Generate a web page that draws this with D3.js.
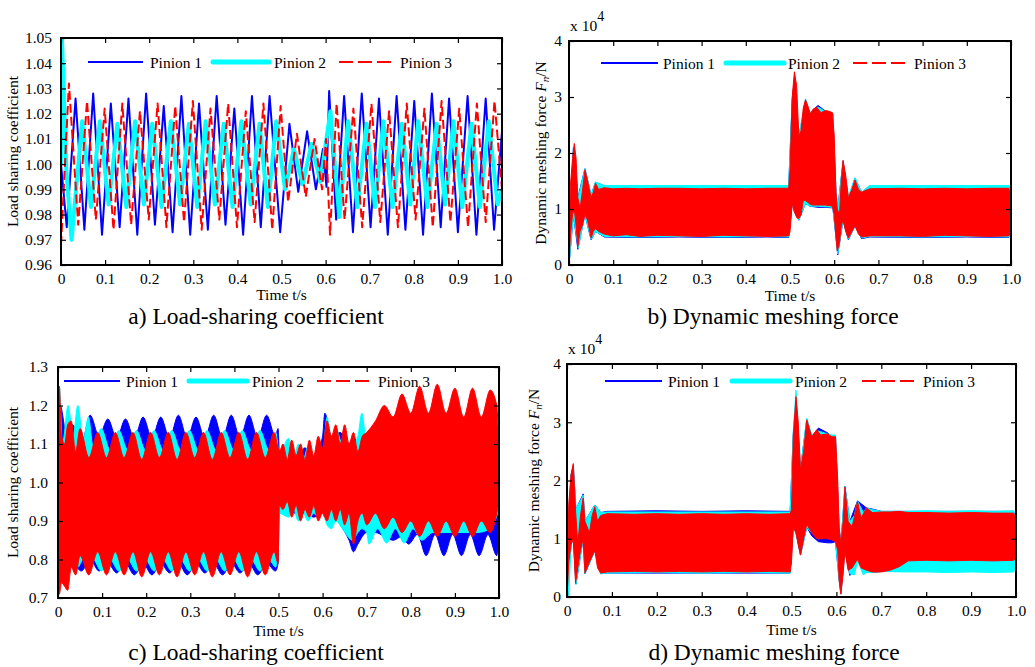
<!DOCTYPE html>
<html><head><meta charset="utf-8">
<script src="https://cdn.jsdelivr.net/npm/d3@7/dist/d3.min.js"></script>
<style>html,body{margin:0;padding:0;background:#fff}svg{display:block}</style>
</head><body><svg id="c" width="1035" height="667"></svg>
<script>
// ---------------- DATA ----------------
const seriesNames = ["Pinion 1", "Pinion 2", "Pinion 3"];
const timeTicks = [0, 0.1, 0.2, 0.3, 0.4, 0.5, 0.6, 0.7, 0.8, 0.9, 1.0];
const timeTickLabels = ["0", "0.1", "0.2", "0.3", "0.4", "0.5", "0.6", "0.7", "0.8", "0.9", "1.0"];
const lscTicksA = [0.96, 0.97, 0.98, 0.99, 1.00, 1.01, 1.02, 1.03, 1.04, 1.05];
const lscLabelsA = ["0.96", "0.97", "0.98", "0.99", "1.00", "1.01", "1.02", "1.03", "1.04", "1.05"];
const lscTicksC = [0.7, 0.8, 0.9, 1.0, 1.1, 1.2, 1.3];
const lscLabelsC = ["0.7", "0.8", "0.9", "1.0", "1.1", "1.2", "1.3"];
const forceTicks = [0, 1, 2, 3, 4];           // x 10^4 N
const forceLabels = ["0", "1", "2", "3", "4"];

// a) load-sharing coefficient, [t, value] at turning points
const aP1 = [[0,1.000],[0.013,0.975],[0.033,1.026],[0.053,0.974],[0.073,1.028],[0.093,0.972],[0.113,1.024],[0.133,0.975],[0.153,1.026],[0.173,0.972],[0.193,1.028],[0.213,0.976],[0.233,1.023],[0.253,0.973],[0.273,1.027],[0.293,0.972],[0.313,1.024],[0.333,0.974],[0.353,1.027],[0.373,0.976],[0.393,1.022],[0.413,0.972],[0.433,1.027],[0.453,0.975],[0.473,1.027],[0.497,0.973],[0.518,1.016],[0.538,0.989],[0.558,1.013],[0.578,0.990],[0.594,1.006],[0.602,0.991],[0.608,1.029],[0.624,0.978],[0.642,1.027],[0.662,0.973],[0.682,1.028],[0.702,0.975],[0.721,1.026],[0.741,0.972],[0.761,1.027],[0.781,0.974],[0.801,1.025],[0.821,0.972],[0.841,1.028],[0.861,0.975],[0.880,1.026],[0.900,0.973],[0.922,1.027],[0.942,0.972],[0.963,1.026],[0.982,0.974],[1.000,1.013]];
const aP2 = [[0,1.000],[0.002,1.050],[0.006,1.030],[0.012,0.998],[0.024,0.970],[0.048,1.017],[0.068,0.983],[0.088,1.017],[0.108,0.984],[0.128,1.016],[0.148,0.983],[0.168,1.017],[0.188,0.984],[0.207,1.016],[0.228,0.983],[0.249,1.017],[0.270,0.984],[0.290,1.016],[0.309,0.983],[0.328,1.017],[0.349,0.984],[0.369,1.016],[0.389,0.983],[0.409,1.017],[0.430,0.984],[0.450,1.016],[0.469,0.983],[0.488,1.017],[0.508,0.990],[0.528,1.006],[0.548,0.992],[0.568,1.008],[0.588,0.993],[0.611,1.021],[0.631,0.979],[0.651,1.017],[0.672,0.983],[0.693,1.016],[0.712,0.983],[0.731,1.017],[0.752,0.983],[0.773,1.016],[0.792,0.984],[0.810,1.017],[0.831,0.983],[0.852,1.016],[0.871,0.984],[0.890,1.017],[0.910,0.983],[0.931,1.016],[0.950,0.983],[0.970,1.017],[0.990,0.984],[1.000,0.990]];
const aP3 = [[0,0.968],[0.018,1.032],[0.039,0.976],[0.059,1.025],[0.079,0.978],[0.099,1.022],[0.119,0.974],[0.139,1.024],[0.159,0.976],[0.179,1.021],[0.199,0.978],[0.219,1.024],[0.239,0.975],[0.259,1.023],[0.279,0.977],[0.299,1.025],[0.319,0.974],[0.339,1.022],[0.359,0.978],[0.379,1.024],[0.399,0.975],[0.419,1.021],[0.439,0.977],[0.459,1.024],[0.479,0.974],[0.498,1.023],[0.515,0.985],[0.535,1.012],[0.555,0.987],[0.575,1.010],[0.592,0.990],[0.601,1.010],[0.610,0.972],[0.625,1.024],[0.643,0.978],[0.663,1.022],[0.683,0.975],[0.704,1.024],[0.724,0.977],[0.744,1.021],[0.764,0.975],[0.784,1.024],[0.804,0.978],[0.824,1.022],[0.843,0.975],[0.863,1.025],[0.883,0.977],[0.903,1.022],[0.923,0.975],[0.943,1.024],[0.963,0.977],[0.983,1.025],[1.000,0.990]];

// b) dynamic meshing force (x10^4 N), envelope [t, low, high]
const bP1 = [[0.000,0.00,0.30],[0.010,0.90,2.10],[0.020,0.28,1.20],[0.036,0.90,1.72],[0.050,0.45,1.25],[0.060,0.60,1.48],[0.080,0.50,1.41],[0.150,0.49,1.41],[0.250,0.50,1.41],[0.350,0.49,1.41],[0.450,0.50,1.41],[0.497,0.49,1.41],[0.505,1.10,2.95],[0.510,0.95,3.30],[0.520,0.80,2.30],[0.535,1.10,2.90],[0.545,1.05,2.70],[0.563,1.03,2.85],[0.580,1.03,2.75],[0.597,1.02,2.70],[0.604,0.50,1.30],[0.608,0.18,1.00],[0.620,0.80,1.85],[0.632,0.45,1.20],[0.647,0.70,1.55],[0.662,0.47,1.30],[0.680,0.50,1.41],[0.800,0.49,1.41],[0.900,0.50,1.41],[0.995,0.49,1.41],[1.000,0.55,1.20]];
const bP2 = [[0.000,0.00,0.30],[0.010,0.90,2.10],[0.021,0.30,1.20],[0.036,0.90,1.72],[0.050,0.46,1.25],[0.060,0.60,1.48],[0.080,0.51,1.42],[0.150,0.50,1.42],[0.250,0.51,1.42],[0.350,0.50,1.42],[0.450,0.51,1.42],[0.497,0.50,1.42],[0.505,1.10,2.95],[0.510,0.95,3.35],[0.520,0.80,2.30],[0.535,1.10,2.97],[0.545,1.05,2.72],[0.563,1.05,2.82],[0.580,1.04,2.74],[0.597,1.03,2.70],[0.604,0.50,1.30],[0.608,0.20,1.00],[0.620,0.80,1.85],[0.632,0.46,1.22],[0.647,0.70,1.56],[0.662,0.48,1.30],[0.680,0.51,1.42],[0.800,0.50,1.42],[0.900,0.51,1.42],[0.995,0.50,1.42],[1.000,0.55,1.20]];
const bP3 = [[0.000,0.00,0.20],[0.003,0.50,1.40],[0.008,0.90,1.90],[0.012,1.00,2.17],[0.016,0.70,1.90],[0.020,0.33,1.20],[0.025,0.60,1.00],[0.030,0.70,1.30],[0.036,0.90,1.70],[0.042,0.80,1.50],[0.050,0.48,1.20],[0.055,0.60,1.30],[0.060,0.65,1.46],[0.067,0.60,1.35],[0.080,0.55,1.38],[0.100,0.52,1.36],[0.130,0.54,1.37],[0.160,0.51,1.36],[0.200,0.53,1.37],[0.250,0.52,1.37],[0.300,0.51,1.36],[0.350,0.53,1.37],[0.400,0.52,1.36],[0.450,0.51,1.37],[0.497,0.52,1.37],[0.500,0.60,1.70],[0.505,1.10,3.00],[0.510,0.95,3.45],[0.515,0.85,3.20],[0.520,0.83,2.30],[0.525,0.90,2.40],[0.530,1.15,2.80],[0.535,1.15,2.95],[0.540,1.12,2.85],[0.546,1.08,2.70],[0.552,1.07,2.78],[0.560,1.07,2.82],[0.570,1.07,2.72],[0.580,1.07,2.76],[0.590,1.06,2.74],[0.596,1.05,2.72],[0.600,0.90,2.30],[0.604,0.50,1.30],[0.607,0.25,1.00],[0.612,0.40,0.90],[0.616,0.70,1.50],[0.620,0.80,1.87],[0.626,0.60,1.60],[0.632,0.48,1.20],[0.640,0.60,1.35],[0.647,0.70,1.52],[0.655,0.55,1.35],[0.662,0.50,1.30],[0.680,0.52,1.36],[0.750,0.52,1.37],[0.800,0.51,1.36],[0.850,0.53,1.37],[0.900,0.52,1.36],[0.950,0.51,1.37],[0.995,0.52,1.37],[1.000,0.60,1.20]];

// c) load-sharing coefficient, envelope [t, low, high]
const cP1 = [[0.000,0.90,1.10],[0.005,0.75,1.20],[0.020,0.76,1.12],[0.033,0.79,1.15],[0.053,0.77,1.10],[0.073,0.80,1.175],[0.093,0.77,1.12],[0.113,0.79,1.165],[0.133,0.765,1.115],[0.153,0.79,1.165],[0.173,0.76,1.115],[0.193,0.79,1.17],[0.213,0.76,1.115],[0.233,0.79,1.17],[0.253,0.765,1.115],[0.273,0.79,1.175],[0.293,0.76,1.115],[0.313,0.79,1.17],[0.333,0.765,1.115],[0.353,0.79,1.175],[0.373,0.76,1.115],[0.393,0.79,1.175],[0.413,0.765,1.115],[0.433,0.79,1.175],[0.453,0.76,1.115],[0.473,0.79,1.175],[0.493,0.77,1.12],[0.499,0.79,1.14],[0.502,0.94,1.08],[0.520,0.93,1.10],[0.540,0.92,1.06],[0.560,0.92,1.09],[0.580,0.91,1.06],[0.600,0.92,1.12],[0.605,0.91,1.18],[0.620,0.92,1.12],[0.640,0.89,1.13],[0.660,0.85,1.10],[0.670,0.82,1.12],[0.680,0.84,1.10],[0.700,0.87,1.12],[0.720,0.87,1.15],[0.740,0.86,1.15],[0.760,0.85,1.15],[0.780,0.86,1.16],[0.795,0.84,1.16],[0.815,0.865,1.16],[0.835,0.81,1.16],[0.855,0.865,1.16],[0.875,0.81,1.16],[0.895,0.865,1.16],[0.915,0.81,1.16],[0.935,0.865,1.16],[0.955,0.81,1.16],[0.975,0.865,1.16],[0.995,0.81,1.15],[1.000,0.88,1.05]];
const cP2 = [[0.000,0.90,1.10],[0.003,0.85,1.25],[0.010,0.80,1.10],[0.023,0.79,1.20],[0.034,0.81,1.12],[0.045,0.78,1.20],[0.057,0.80,1.11],[0.069,0.77,1.17],[0.080,0.80,1.09],[0.098,0.77,1.14],[0.118,0.80,1.085],[0.138,0.77,1.135],[0.158,0.80,1.085],[0.178,0.77,1.135],[0.198,0.80,1.085],[0.218,0.77,1.135],[0.238,0.80,1.085],[0.258,0.77,1.135],[0.278,0.80,1.085],[0.298,0.77,1.135],[0.318,0.80,1.085],[0.338,0.77,1.135],[0.358,0.80,1.085],[0.378,0.77,1.135],[0.398,0.80,1.085],[0.418,0.77,1.135],[0.438,0.80,1.085],[0.458,0.77,1.135],[0.478,0.80,1.085],[0.494,0.78,1.13],[0.502,0.92,1.07],[0.523,0.91,1.115],[0.534,0.93,1.06],[0.545,0.90,1.10],[0.556,0.92,1.06],[0.567,0.90,1.093],[0.580,0.92,1.06],[0.590,0.91,1.08],[0.600,0.92,1.07],[0.610,0.89,1.17],[0.620,0.88,1.11],[0.630,0.90,1.14],[0.645,0.88,1.10],[0.668,0.85,1.10],[0.680,0.87,1.12],[0.689,0.88,1.18],[0.700,0.87,1.10],[0.705,0.84,1.10],[0.725,0.88,1.13],[0.745,0.843,1.12],[0.765,0.88,1.14],[0.785,0.843,1.14],[0.805,0.88,1.15],[0.825,0.85,1.15],[0.850,0.87,1.15],[0.900,0.87,1.15],[0.950,0.87,1.15],[0.980,0.88,1.15],[1.000,0.93,1.05]];
const cP3 = [[0.000,0.85,1.05],[0.003,0.71,1.25],[0.008,0.74,1.12],[0.015,0.73,1.10],[0.022,0.72,1.15],[0.030,0.78,1.16],[0.040,0.76,1.08],[0.050,0.81,1.14],[0.070,0.76,1.065],[0.090,0.82,1.13],[0.110,0.76,1.065],[0.130,0.82,1.13],[0.150,0.76,1.065],[0.170,0.82,1.13],[0.190,0.755,1.06],[0.210,0.82,1.13],[0.230,0.76,1.065],[0.250,0.82,1.13],[0.270,0.755,1.06],[0.290,0.82,1.13],[0.310,0.76,1.065],[0.330,0.82,1.13],[0.350,0.755,1.06],[0.370,0.82,1.13],[0.390,0.76,1.065],[0.410,0.82,1.13],[0.430,0.755,1.06],[0.450,0.82,1.13],[0.470,0.76,1.065],[0.490,0.82,1.13],[0.499,0.79,1.09],[0.502,0.94,1.08],[0.510,0.93,1.10],[0.520,0.95,1.06],[0.530,0.91,1.11],[0.540,0.94,1.07],[0.550,0.90,1.10],[0.560,0.93,1.06],[0.570,0.91,1.11],[0.580,0.94,1.07],[0.590,0.90,1.12],[0.600,0.92,1.09],[0.610,0.90,1.16],[0.620,0.93,1.12],[0.630,0.90,1.15],[0.640,0.93,1.10],[0.650,0.89,1.15],[0.660,0.92,1.10],[0.670,0.84,1.13],[0.680,0.90,1.08],[0.690,0.92,1.12],[0.700,0.89,1.13],[0.720,0.92,1.16],[0.740,0.88,1.20],[0.760,0.91,1.17],[0.780,0.87,1.23],[0.800,0.90,1.18],[0.820,0.86,1.25],[0.840,0.90,1.18],[0.860,0.86,1.255],[0.880,0.90,1.18],[0.900,0.86,1.245],[0.920,0.90,1.17],[0.940,0.86,1.245],[0.960,0.90,1.17],[0.980,0.87,1.24],[0.995,0.92,1.20],[1.000,0.95,1.05]];

// d) dynamic meshing force (x10^4 N), envelope [t, low, high]
const dP1 = [[0.000,0.00,0.30],[0.009,0.90,2.10],[0.014,1.00,2.25],[0.020,0.22,1.50],[0.036,1.00,1.77],[0.040,0.40,1.30],[0.062,0.80,1.58],[0.075,0.40,1.45],[0.090,0.41,1.47],[0.200,0.41,1.48],[0.300,0.41,1.47],[0.400,0.41,1.48],[0.497,0.41,1.47],[0.504,1.20,2.80],[0.510,1.10,3.40],[0.520,0.72,2.20],[0.534,1.20,3.05],[0.545,1.05,2.75],[0.560,0.95,2.90],[0.580,0.93,2.82],[0.590,0.93,2.75],[0.598,0.95,2.75],[0.606,0.30,1.20],[0.610,0.05,0.90],[0.619,0.80,1.90],[0.630,0.37,1.30],[0.647,0.62,1.65],[0.667,0.42,1.53],[0.680,0.42,1.51],[0.700,0.44,1.47],[0.800,0.45,1.47],[0.900,0.45,1.47],[0.995,0.45,1.47],[1.000,0.55,1.30]];
const dP2 = [[0.000,0.00,0.30],[0.004,0.00,1.50],[0.009,0.90,2.10],[0.014,1.00,2.25],[0.020,0.22,1.50],[0.036,1.00,1.75],[0.040,0.40,1.30],[0.062,0.80,1.58],[0.075,0.40,1.45],[0.090,0.41,1.46],[0.200,0.42,1.46],[0.300,0.41,1.46],[0.400,0.42,1.46],[0.497,0.41,1.46],[0.504,1.20,2.85],[0.510,1.10,3.55],[0.520,0.72,2.20],[0.534,1.20,3.07],[0.545,1.10,2.78],[0.560,1.00,2.85],[0.580,1.05,2.80],[0.590,1.20,2.78],[0.598,0.95,2.78],[0.606,0.30,1.20],[0.610,0.05,0.90],[0.619,0.80,1.90],[0.630,0.40,1.30],[0.640,0.38,1.40],[0.647,0.62,1.65],[0.660,0.38,1.45],[0.667,0.42,1.53],[0.680,0.42,1.50],[0.700,0.44,1.47],[0.750,0.43,1.47],[0.800,0.43,1.48],[0.850,0.42,1.47],[0.900,0.43,1.48],[0.950,0.42,1.47],[0.995,0.43,1.48],[1.000,0.55,1.30]];
const dP3 = [[0.000,0.00,0.30],[0.004,0.60,1.60],[0.009,0.90,2.10],[0.014,1.00,2.29],[0.019,0.235,1.50],[0.024,0.50,0.90],[0.030,0.80,1.40],[0.036,1.00,1.70],[0.040,0.41,1.30],[0.050,0.60,1.10],[0.056,0.70,1.40],[0.062,0.80,1.55],[0.068,0.50,1.30],[0.075,0.41,1.40],[0.090,0.43,1.43],[0.150,0.44,1.42],[0.200,0.43,1.43],[0.250,0.44,1.42],[0.300,0.43,1.43],[0.350,0.44,1.42],[0.400,0.43,1.43],[0.450,0.44,1.42],[0.497,0.43,1.43],[0.500,0.60,1.50],[0.504,1.20,2.75],[0.510,1.10,3.44],[0.515,0.90,3.00],[0.520,0.72,2.18],[0.527,1.00,2.50],[0.534,1.25,3.04],[0.545,1.10,2.75],[0.556,1.00,2.87],[0.565,1.00,2.78],[0.580,1.00,2.80],[0.590,0.98,2.75],[0.598,0.95,2.75],[0.603,0.80,2.00],[0.606,0.30,1.20],[0.610,0.05,0.90],[0.615,0.40,1.30],[0.619,0.80,1.89],[0.626,0.46,1.30],[0.635,0.50,1.20],[0.647,0.65,1.64],[0.655,0.50,1.35],[0.667,0.46,1.53],[0.680,0.43,1.45],[0.700,0.43,1.46],[0.720,0.46,1.46],[0.740,0.52,1.47],[0.760,0.62,1.45],[0.800,0.63,1.45],[0.850,0.62,1.44],[0.900,0.63,1.45],[0.950,0.62,1.44],[0.995,0.63,1.44],[1.000,0.70,1.30]];

// ---------------- DRAWING ----------------
const FONT = "'Liberation Serif','Times New Roman',serif";
const COLORS = ["#0000ff", "#00ffff", "#ff0000"];
const svg = d3.select("#c").attr("font-family", FONT);

function panel(o) {
  const x = d3.scaleLinear().domain([0, 1]).range([o.L, o.R]);
  const y = d3.scaleLinear().domain(o.yDomain).range([o.B, o.T]);
  const g = svg.append("g");
  const clipId = "clip" + o.id;
  g.append("clipPath").attr("id", clipId).append("rect")
    .attr("x", o.L).attr("y", o.T).attr("width", o.R - o.L).attr("height", o.B - o.T);
  const dg = g.append("g").attr("clip-path", `url(#${clipId})`);

  if (o.type === "line") {
    const line = d3.line().x(d => x(d[0])).y(d => y(d[1]));
    o.series.forEach((s, i) => {
      dg.append("path").attr("d", line(s)).attr("fill", "none")
        .attr("stroke", COLORS[i])
        .attr("stroke-width", i === 1 ? 4 : 2)
        .attr("stroke-linejoin", "round")
        .attr("stroke-dasharray", i === 2 ? "9,4" : null);
    });
  } else {
    const area = d3.area().x(d => x(d[0])).y0(d => y(d[1])).y1(d => y(d[2]))
      .curve(o.smooth ? d3.curveMonotoneX : d3.curveLinear);
    o.series.forEach((s, i) => {
      dg.append("path").attr("d", area(s)).attr("fill", COLORS[i])
        .attr("stroke", COLORS[i]).attr("stroke-width", 1);
    });
  }

  // axes with inward ticks on all sides
  const tk = 5;
  const ax = g.append("g");
  ax.append("g").attr("transform", `translate(0,${o.B})`)
    .call(d3.axisBottom(x).tickValues(timeTicks).tickFormat((d, i) => timeTickLabels[i]).tickSize(-tk).tickPadding(8));
  ax.append("g").attr("transform", `translate(0,${o.T})`)
    .call(d3.axisTop(x).tickValues(timeTicks).tickFormat("").tickSize(-tk));
  ax.append("g").attr("transform", `translate(${o.L},0)`)
    .call(d3.axisLeft(y).tickValues(o.yTicks).tickFormat((d, i) => o.yLabels[i]).tickSize(-tk).tickPadding(o.yPad));
  ax.append("g").attr("transform", `translate(${o.R},0)`)
    .call(d3.axisRight(y).tickValues(o.yTicks).tickFormat("").tickSize(-tk));
  ax.selectAll("g").attr("font-size", 15.5).attr("font-family", FONT);
  ax.selectAll(".domain").remove();
  ax.selectAll(".tick line").attr("stroke", "#000").attr("stroke-width", 1.2);
  ax.selectAll(".tick text").attr("fill", "#000").attr("font-family", FONT).attr("font-size", 15.5);

  g.append("rect").attr("x", o.L).attr("y", o.T).attr("width", o.R - o.L).attr("height", o.B - o.T)
    .attr("fill", "none").attr("stroke", "#000").attr("stroke-width", 2);

  // legend
  o.legend.forEach((lg, i) => {
    g.append("line").attr("x1", lg[0]).attr("x2", lg[1]).attr("y1", o.legY).attr("y2", o.legY)
      .attr("stroke", COLORS[i]).attr("stroke-width", i === 1 ? 5 : 2)
      .attr("stroke-linecap", i === 1 ? "round" : "butt")
      .attr("stroke-dasharray", i === 2 ? "14,5" : null);
    g.append("text").attr("x", lg[2]).attr("y", o.legY + 5.5).attr("font-size", 15.5)
      .attr("fill", "#000").text(seriesNames[i]);
  });

  // x label
  g.append("text").attr("x", (o.L + o.R) / 2).attr("y", o.xLabY).attr("text-anchor", "middle")
    .attr("font-size", 15.5).text("Time t/s");

  // y label
  const yl = g.append("text").attr("transform", `translate(${o.yLabX},${(o.T + o.B) / 2}) rotate(-90)`)
    .attr("text-anchor", "middle").attr("font-size", 15.5);
  if (o.force) {
    yl.append("tspan").text("Dynamic meshing force ");
    yl.append("tspan").attr("font-style", "italic").text("F");
    yl.append("tspan").attr("font-style", "italic").attr("font-size", 11).attr("dy", 3).text("n");
    yl.append("tspan").attr("dy", -3).text("/N");
    const ex = g.append("text").attr("x", o.L + 1).attr("y", o.T - 10).attr("font-size", 15.5);
    ex.append("tspan").text("x 10");
    ex.append("tspan").attr("dy", -10).attr("font-size", 14).text("4");
  } else {
    yl.text("Load sharing coefficient");
  }

  // caption
  g.append("text").attr("x", o.capX).attr("y", o.capY).attr("text-anchor", "middle")
    .attr("font-size", 23.5).text(o.caption);
}

panel({ id: "a", type: "line", series: [aP1, aP2, aP3], L: 61, R: 502, T: 38, B: 265,
  yDomain: [0.96, 1.05], yTicks: lscTicksA, yLabels: lscLabelsA, yPad: 9,
  legend: [[88, 143, 150], [213, 269, 274], [339, 396, 400]], legY: 62,
  xLabY: 300, yLabX: 18, capX: 256, capY: 324, caption: "a) Load-sharing coefficient" });

panel({ id: "b", type: "area", series: [bP1, bP2, bP3], L: 569, R: 1011, T: 41, B: 265, force: true,
  yDomain: [0, 4], yTicks: forceTicks, yLabels: forceLabels, yPad: 7,
  legend: [[601, 658, 663], [726, 784, 788], [853, 910, 914]], legY: 63,
  xLabY: 301, yLabX: 546, capX: 773, capY: 324, caption: "b) Dynamic meshing force" });

panel({ id: "c", type: "area", smooth: true, series: [cP1, cP2, cP3], L: 58, R: 499, T: 367, B: 598,
  yDomain: [0.7, 1.3], yTicks: lscTicksC, yLabels: lscLabelsC, yPad: 10,
  legend: [[64, 120, 126], [189, 247, 252], [317, 373, 378]], legY: 381,
  xLabY: 636, yLabX: 18, capX: 256, capY: 660, caption: "c) Load-sharing coefficient" });

panel({ id: "d", type: "area", series: [dP1, dP2, dP3], L: 567, R: 1016, T: 364, B: 597, force: true,
  yDomain: [0, 4], yTicks: forceTicks, yLabels: forceLabels, yPad: 6,
  legend: [[605, 662, 668], [732, 790, 795], [862, 918, 923]], legY: 381,
  xLabY: 635, yLabX: 539, capX: 774, capY: 660, caption: "d) Dynamic meshing force" });
</script></body></html>
